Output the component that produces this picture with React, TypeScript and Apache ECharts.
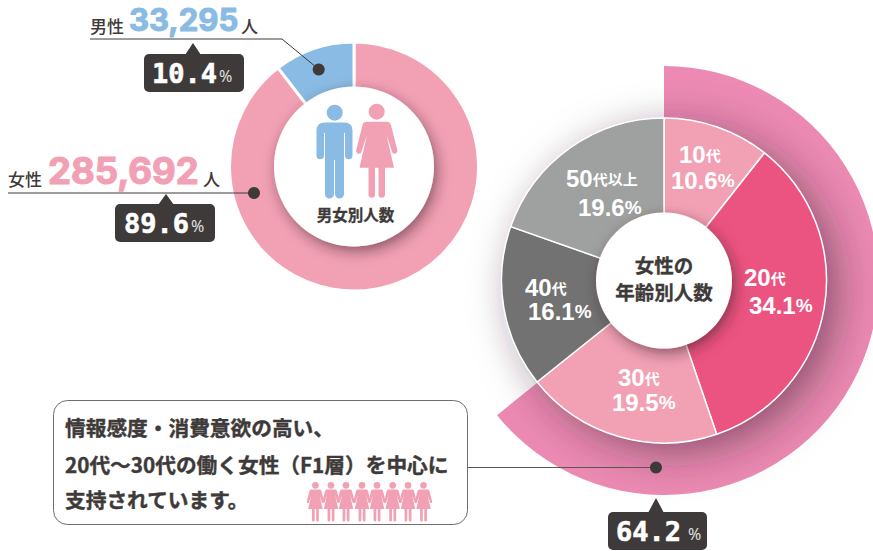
import React, { useEffect, useRef } from "react";
import * as echarts from "echarts";

const genderNames = ["女性", "男性"];
const genderCounts = [285692, 33295];
const genderCountLabels = ["285,692", "33,295"];
const genderShares = ["89.6", "10.4"];
const ageNames = ["10", "20", "30", "40", "50"];
const ageShares = [10.6, 34.1, 19.5, 16.1, 19.6];
const coreShare = [64.2, 35.8];
const noteLines = ["情報感度・消費意欲の高い、", "20代〜30代の働く女性（F1層）を中心に", "支持されています。"];

const PINK = "#F2A1B5";
const BLUE = "#8ABBE4";
const DARK = "#3E3A39";
const MONO = '"DejaVu Sans Mono"';
const JP = '"Noto Sans CJK JP"';
const SANS = '"Liberation Sans"';

const MAN =
  "M334.7 104.7A8 8 0 1 1 334.7 120.7A8 8 0 1 1 334.7 104.7Z" +
  "M325 122.5H344Q352.5 122.5 352.5 130.5V155.5A3.75 3.75 0 0 1 345 155.5V133H344V194A4.5 4.5 0 0 1 335 194V160H334V194A4.5 4.5 0 0 1 325 194V133H324V155.5A3.75 3.75 0 0 1 316.5 155.5V130.5Q316.5 122.5 325 122.5Z";
const WOMAN =
  "M376.7 103.7A8 8 0 1 1 376.7 119.7A8 8 0 1 1 376.7 103.7Z" +
  "M367 121.7H386.5Q390 121.7 391 125L397.5 151A3 3 0 0 1 392.5 153L386.5 135L394 167.7H359.5L367 135L361 153A3 3 0 0 1 356 151L362.5 125Q363.5 121.7 367 121.7Z" +
  "M368.5 167.7H375V194.5A3.25 3.25 0 0 1 368.5 194.5Z" +
  "M378.5 167.7H385V194.5A3.25 3.25 0 0 1 378.5 194.5Z";
echarts.graphic.registerShape("manFig", echarts.graphic.extendPath(MAN, {}));
echarts.graphic.registerShape("womanFig", echarts.graphic.extendPath(WOMAN, {}));

const T = (x: number, y: number, text: string, font: string, fill: string, align = "left", extra: any = {}) => ({
  type: "text",
  z: 100,
  x,
  y,
  silent: true,
  style: { text, font, fill, align, verticalAlign: "middle", ...extra },
});
const heavy = (c: string, w = 0.5) => ({ stroke: c, lineWidth: w });

const badge = (x: number, y: number, w: number, apexX: number, apexY: number, share: string, tx: number, px: number) => [
  { type: "polygon", z: 100, silent: true, shape: { points: [[apexX, apexY], [apexX - 8, y + 1], [apexX + 8, y + 1]] }, style: { fill: DARK } },
  { type: "rect", z: 100, silent: true, shape: { x, y, width: w, height: 38, r: 5 }, style: { fill: DARK } },
  T(tx, y + 19, share, `bold 27px ${MONO}`, "#FFFFFF", "left", heavy("#FFFFFF", 0.6)),
  T(px, y + 22, "%", `400 16px "Noto Sans"`, "#E0E0E0"),
];

const richA = { font: `bold 24px ${SANS}`, fill: "#FFFFFF", color: "#FFFFFF", lineHeight: 20 };
const ageLabel = (i: number, x1: number, y1: number, x2: number, y2: number, suffix = "代") => ({
  type: "group",
  z: 100,
  silent: true,
  children: [
    {
      type: "text",
      z: 100,
      x: x1,
      y: y1,
      style: {
        text: `{a|${ageNames[i]}}{b|${suffix}}`,
        align: "left",
        verticalAlign: "middle",
        rich: { a: richA, b: { font: `bold 15px ${JP}`, fill: "#FFFFFF", color: "#FFFFFF", lineHeight: 20 } },
      },
    },
    {
      type: "text",
      z: 100,
      x: x2,
      y: y2,
      style: {
        text: `{a|${ageShares[i].toFixed(1)}}{b|%}`,
        align: "left",
        verticalAlign: "middle",
        rich: { a: richA, b: { font: `bold 19px ${SANS}`, fill: "#FFFFFF", color: "#FFFFFF", lineHeight: 20 } },
      },
    },
  ],
});

const smallWomenX = [315.4, 331, 346, 362, 377, 392.7, 408, 423.5];

export default function App() {
  const ref = useRef<HTMLDivElement>(null);
  useEffect(() => {
    const chart = echarts.init(ref.current!, undefined, { renderer: "svg" });
    const pieBase = { type: "pie", silent: true, startAngle: 90, clockwise: true, label: { show: false }, labelLine: { show: false }, emphasis: { disabled: true } };
    const leftCenter = [354, 166.5];
    const rightCenter = [664, 280.5];
    const ageColors = [PINK, "#EB5380", PINK, "#727272", "#9FA0A0"];
    const s = 0.42;
    chart.setOption({
      animation: false,
      backgroundColor: "#FFFFFF",
      series: [
        {
          ...pieBase, z: 2, center: leftCenter, radius: [70, 124.5],
          itemStyle: { borderColor: "#FFFFFF", borderWidth: 3 },
          data: genderCounts.map((v, i) => ({ value: v, name: genderNames[i], itemStyle: { color: i === 0 ? PINK : BLUE } })),
        },
        {
          ...pieBase, z: 3, center: leftCenter, radius: [0, 80],
          data: [{ value: 1, itemStyle: { color: "#FFFFFF", shadowBlur: 14, shadowOffsetX: 3, shadowOffsetY: 5, shadowColor: "rgba(60,30,40,0.55)" } }],
        },
        {
          ...pieBase, z: 2, center: rightCenter, radius: [160, 214.5],
          data: coreShare.map((v, i) => ({ value: v, itemStyle: { color: i === 0 ? "#EC8AB3" : "rgba(0,0,0,0)" } })),
        },
        {
          ...pieBase, z: 3, center: rightCenter, radius: [0, 162.5],
          data: [{ value: 1, itemStyle: { color: "#FFFFFF", shadowBlur: 42, shadowOffsetX: 12, shadowOffsetY: 10, shadowColor: "rgba(50,30,40,0.5)" } }],
        },
        {
          ...pieBase, z: 4, center: rightCenter, radius: [0, 162.5],
          itemStyle: { borderColor: "#FFFFFF", borderWidth: 1.5 },
          data: ageShares.map((v, i) => ({ value: v, name: ageNames[i], itemStyle: { color: ageColors[i] } })),
        },
        {
          ...pieBase, z: 5, center: rightCenter, radius: [0, 68],
          data: [{ value: 1, itemStyle: { color: "#FFFFFF", shadowBlur: 14, shadowOffsetX: 3, shadowOffsetY: 5, shadowColor: "rgba(60,30,40,0.55)" } }],
        },
      ],
      graphic: {
        elements: [
          { type: "manFig", z: 100, silent: true, x: 0, y: 0, style: { fill: BLUE } },
          { type: "womanFig", z: 100, silent: true, x: 0, y: 0, style: { fill: PINK } },
          T(355.5, 214, "男女別人数", `bold 15.5px ${JP}`, DARK, "center", heavy(DARK, 0.3)),
          T(90, 25, genderNames[1], `500 17px ${JP}`, DARK),
          T(129, 19, genderCountLabels[1], `bold 31px Inter`, BLUE, "left", heavy(BLUE, 1.1)),
          T(241, 25, "人", `500 17px ${JP}`, DARK),
          { type: "polyline", z: 100, silent: true, shape: { points: [[90, 39], [282, 39], [319, 69.5]] }, style: { stroke: DARK, lineWidth: 1, fill: "none" } },
          { type: "circle", z: 100, silent: true, shape: { cx: 318.7, cy: 69.5, r: 6 }, style: { fill: DARK } },
          ...badge(144, 54, 100, 193, 43, genderShares[1], 152, 219),
          T(8, 178, genderNames[0], `500 17px ${JP}`, DARK),
          T(48, 171, genderCountLabels[0], `bold 36.5px Inter`, PINK, "left", heavy(PINK, 1.2)),
          T(203, 178, "人", `500 17px ${JP}`, DARK),
          { type: "line", z: 100, silent: true, shape: { x1: 8, y1: 193, x2: 254, y2: 193 }, style: { stroke: DARK, lineWidth: 1 } },
          { type: "circle", z: 100, silent: true, shape: { cx: 254, cy: 193, r: 6 }, style: { fill: DARK } },
          ...badge(115, 204, 100, 166, 194, genderShares[0], 124, 191),
          T(664, 264, "女性の", `bold 19.5px ${JP}`, DARK, "center", heavy(DARK, 0.3)),
          T(664, 291, "年齢別人数", `bold 19.5px ${JP}`, DARK, "center", heavy(DARK, 0.3)),
          ageLabel(0, 679, 154, 671, 180),
          ageLabel(1, 744, 277, 749, 305),
          ageLabel(2, 618, 377, 612, 402),
          ageLabel(3, 525, 287, 528, 311),
          ageLabel(4, 566, 178, 578, 207, "代以上"),
          { type: "rect", z: 100, silent: true, shape: { x: 53.5, y: 400.5, width: 414, height: 124, r: 14 }, style: { fill: "#FFFFFF", stroke: "#6E6E6E", lineWidth: 1 } },
          T(65, 427, noteLines[0], `bold 20.7px ${JP}`, DARK, "left", heavy(DARK, 0.4)),
          T(65, 464, noteLines[1], `bold 20.7px ${JP}`, DARK, "left", heavy(DARK, 0.4)),
          T(65, 499, noteLines[2], `bold 20.7px ${JP}`, DARK, "left", heavy(DARK, 0.4)),
          ...smallWomenX.map((cx) => ({
            type: "womanFig", z: 100, silent: true, x: cx - 376.7 * s, y: 482 - 103.7 * s, scaleX: s, scaleY: s, style: { fill: PINK },
          })),
          { type: "line", z: 100, silent: true, shape: { x1: 467.5, y1: 467.5, x2: 656, y2: 467.5 }, style: { stroke: "#5A5655", lineWidth: 1 } },
          { type: "circle", z: 100, silent: true, shape: { cx: 656, cy: 467.5, r: 6 }, style: { fill: DARK } },
          ...badge(608, 512, 99, 656, 498, String(coreShare[0]), 616, 688),
        ],
      },
    });
    return () => chart.dispose();
  }, []);
  return <div ref={ref} style={{ position: "fixed", left: 0, top: 0, width: 873, height: 551, background: "#fff" }} />;
}
